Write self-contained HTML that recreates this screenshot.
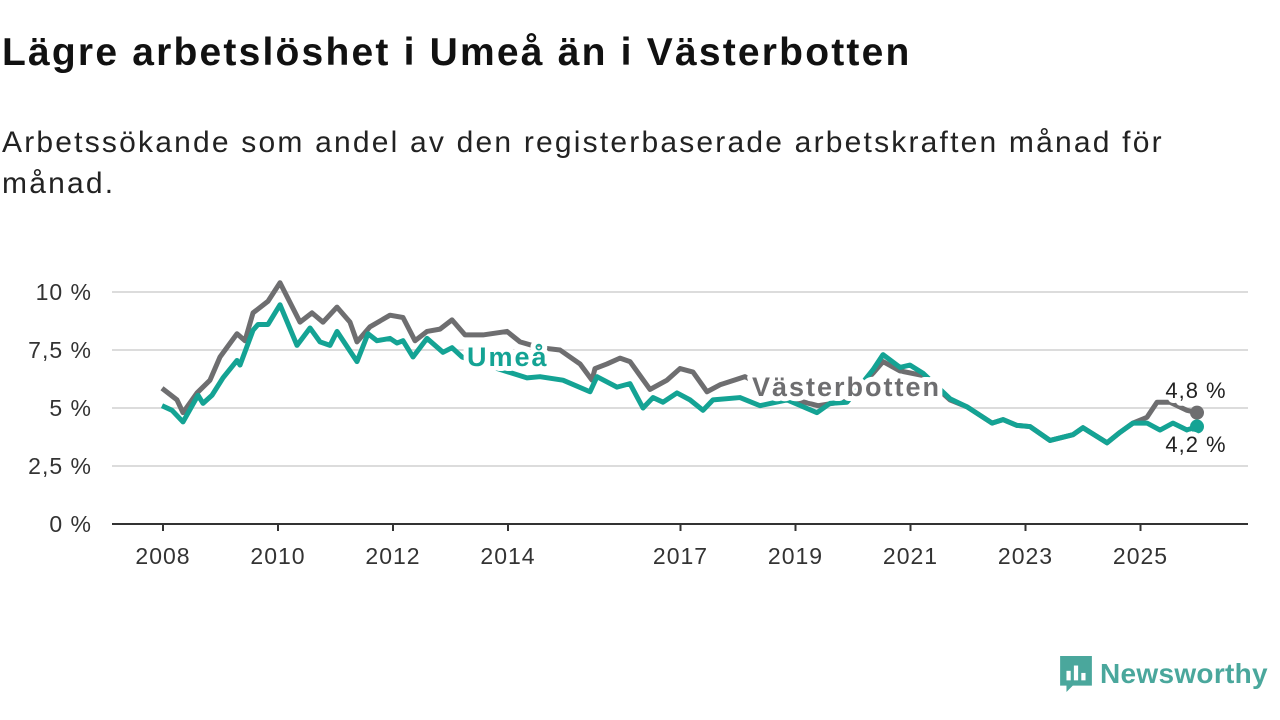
<!DOCTYPE html>
<html><head><meta charset="utf-8">
<style>
body{margin:0;background:#fff;width:1280px;height:720px;overflow:hidden;font-family:"Liberation Sans",sans-serif;}
h1{position:absolute;left:2px;top:31px;margin:0;font-size:39px;font-weight:bold;color:#111;letter-spacing:2.2px;white-space:nowrap;}
.sub{position:absolute;left:2px;top:122px;margin:0;font-size:30px;line-height:41px;color:#222;width:1260px;letter-spacing:2.2px;}
svg{position:absolute;left:0;top:0;}
</style></head><body>
<h1>Lägre arbetslöshet i Umeå än i Västerbotten</h1>
<p class="sub">Arbetssökande som andel av den registerbaserade arbetskraften månad för<br>månad.</p>
<svg id="chart" width="1280" height="720"></svg>
<script>
const yTicks=[0,2.5,5,7.5,10];
const yTickLabels=["0 %","2,5 %","5 %","7,5 %","10 %"];
const xTicks=[2008,2010,2012,2014,2017,2019,2021,2023,2025];
const grayX=[162,177,183,197,210,220,237,245,253,268,280,300,312,323,337,350,357,370,390,403,415,427,440,452,465,483,507,520,540,560,580,592,595,607,620,630,650,667,680,693,707,720,745,780,800,818,847,873,883,900,923,950,967,992,1003,1017,1030,1050,1073,1083,1107,1120,1133,1147,1157,1170,1187,1197];
const grayV=[5.85,5.35,4.8,5.65,6.2,7.2,8.2,7.9,9.1,9.6,10.4,8.7,9.1,8.7,9.35,8.7,7.85,8.5,9.0,8.9,7.9,8.3,8.4,8.8,8.15,8.15,8.3,7.85,7.6,7.5,6.9,6.2,6.7,6.9,7.15,7.0,5.8,6.2,6.7,6.55,5.7,6.0,6.35,5.6,5.3,5.1,5.3,6.5,7.0,6.6,6.4,5.35,5.05,4.35,4.5,4.25,4.2,3.6,3.85,4.15,3.5,3.95,4.35,4.6,5.25,5.25,4.9,4.8];
const tealX=[162,172,183,198,203,212,223,237,240,253,258,268,280,297,310,320,330,337,357,368,377,390,397,403,413,427,443,452,462,490,527,540,563,590,597,617,630,643,653,663,677,690,703,713,740,760,787,817,830,847,873,883,900,910,923,950,967,992,1003,1017,1030,1050,1073,1083,1107,1120,1133,1147,1160,1173,1187,1197];
const tealV=[5.1,4.9,4.4,5.55,5.2,5.55,6.3,7.05,6.85,8.35,8.6,8.6,9.45,7.7,8.45,7.85,7.7,8.3,7.0,8.2,7.9,8.0,7.8,7.9,7.2,8.0,7.4,7.6,7.2,6.8,6.3,6.35,6.2,5.7,6.35,5.9,6.05,5.0,5.45,5.25,5.65,5.35,4.9,5.35,5.45,5.1,5.35,4.8,5.2,5.25,6.65,7.3,6.75,6.85,6.5,5.4,5.05,4.35,4.5,4.25,4.2,3.6,3.85,4.15,3.5,3.95,4.35,4.35,4.05,4.35,4.05,4.2];
const NS="http://www.w3.org/2000/svg",svg=document.getElementById('chart');
const y=v=>524-v*23.2, x=yr=>163+(yr-2008)*57.5;
function mk(t,a,txt){const e=document.createElementNS(NS,t);for(const k in a)e.setAttribute(k,a[k]);if(txt!=null)e.textContent=txt;svg.appendChild(e);return e;}
yTicks.forEach((v,i)=>{
 if(v>0){const g=mk('line',{x1:112,x2:1248,y1:y(v),y2:y(v),stroke:'#dcdcdc','stroke-width':2});
 
 }
 const t=mk('text',{x:92,y:y(v)+8,'text-anchor':'end','font-size':23,fill:'#333','letter-spacing':1},yTickLabels[i]);
 
 
});
const ax=mk('line',{x1:112,x2:1248,y1:524,y2:524,stroke:'#333','stroke-width':2});


xTicks.forEach(yr=>{
 const l=mk('line',{x1:x(yr),x2:x(yr),y1:524,y2:531,stroke:'#333','stroke-width':2});
 
 
 const t=mk('text',{x:x(yr),y:564,'text-anchor':'middle','font-size':23,fill:'#333','letter-spacing':1},yr);
 
 
});
function line(xs,vs,c,n){const p=mk('polyline',{points:xs.map((px,i)=>px+','+y(vs[i])).join(' '),fill:'none',stroke:c,'stroke-width':5,'stroke-linejoin':'round'});
 
 }
line(grayX,grayV,'#6e6e70','line-vasterbotten');
line(tealX,tealV,'#14a394','line-umea');
const d1=mk('circle',{cx:grayX[grayX.length-1],cy:y(grayV[grayV.length-1]),r:7,fill:'#6e6e70'});


const d2=mk('circle',{cx:tealX[tealX.length-1],cy:y(tealV[tealV.length-1]),r:7,fill:'#14a394'});


function lab(t,a,n){const e=mk('text',Object.assign({stroke:'#fff','stroke-width':10,'paint-order':'stroke','stroke-linejoin':'round'},a),t);
 
 }
lab('Umeå',{x:467,y:366,'font-size':27,'font-weight':'bold',fill:'#14a394','letter-spacing':2},'series-label-umea');
lab('Västerbotten',{x:752,y:396,'font-size':27,'font-weight':'bold',fill:'#6e6e70','letter-spacing':2},'series-label-vasterbotten');
lab('4,8 %',{x:1196,y:398,'font-size':22,fill:'#222','text-anchor':'middle','letter-spacing':1},'end-value-vasterbotten');
lab('4,2 %',{x:1196,y:452,'font-size':22,fill:'#222','text-anchor':'middle','letter-spacing':1},'end-value-umea');
</script>
<div style="position:absolute;left:1058px;top:653px;display:flex;align-items:center;">
 <svg width="36" height="42" viewBox="0 0 34 38" style="position:static"><path d="M2 2h30v28H14l-6 6v-6H2z" fill="#4aa79c"/><rect x="8" y="16" width="4" height="9" fill="#fff"/><rect x="15" y="11" width="4" height="14" fill="#fff"/><rect x="22" y="18" width="4" height="7" fill="#fff"/></svg>
 <span style="font-size:28px;font-weight:bold;color:#4aa79c;margin-left:6px;letter-spacing:0.3px;">Newsworthy</span>
</div>
</body></html>
